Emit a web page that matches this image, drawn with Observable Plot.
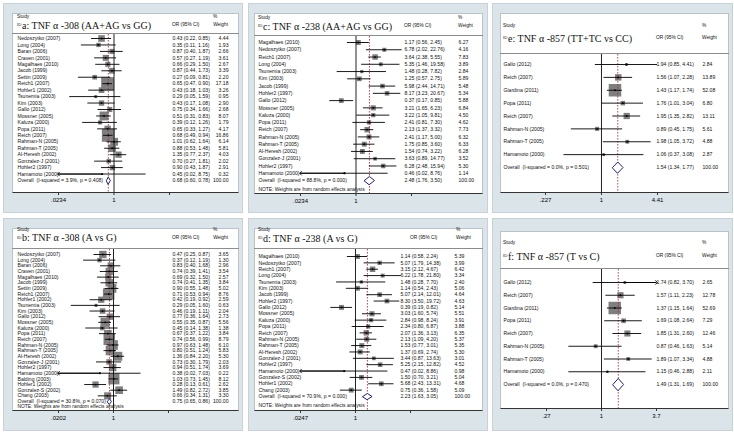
<!DOCTYPE html>
<html><head><meta charset="utf-8">
<script src="https://cdn.jsdelivr.net/npm/d3@7"></script>
<script src="https://cdn.jsdelivr.net/npm/@observablehq/plot@0.6"></script>
<style>
body{margin:0;background:#fff;width:734px;height:435px;overflow:hidden;position:relative;font-family:"Liberation Sans",Arial,sans-serif;}
.outer{position:absolute;background:#dae4e9;border:1px solid #c7d1d7;box-sizing:border-box;}
.inner{position:absolute;background:#fff;border:1px solid #b9c3c9;border-bottom:1px solid #333;box-sizing:border-box;}
.hline{position:absolute;height:1px;background:#8c8c8c;}
.t{position:absolute;white-space:nowrap;color:#111;}
svg.plot{position:absolute;}
</style></head><body>
<script>
// ---------- DATA ----------
// a: TNF α -308 (AA+AG vs GG)
const aStudies = ["Nedoszytko (2007)","Long (2004)","Baran (2006)","Craven (2001)","Magalhaes (2010)","Jacob (1999)","Settin (2009)","Reich1 (2007)","Hohler1 (2002)","Tsunemia (2003)","Kim (2003)","Gallo (2012)","Mossner (2005)","Kaluza (2000)","Popa (2011)","Reich (2007)","Rahman-N (2005)","Rahman-T (2005)","Al-Heresh (2002)","Gonzalez-J (2001)","Hohler2 (1997)","Hamamoto (2000)"];
const aOR = [0.43,0.35,0.87,0.57,0.66,0.87,0.27,0.65,0.43,0.29,0.43,0.75,0.51,0.39,0.65,0.68,1.01,0.88,1.35,0.70,0.90,0.45];
const aLo = [0.22,0.11,0.40,0.27,0.29,0.44,0.09,0.47,0.18,0.05,0.17,0.34,0.31,0.12,0.33,0.49,0.62,0.53,0.77,0.27,0.43,0.02];
const aHi = [0.85,1.16,1.87,1.19,1.50,1.73,0.81,0.90,1.03,1.59,1.08,1.66,0.83,1.26,1.27,0.94,1.64,1.48,2.37,1.81,1.87,8.75];
const aWeight = [4.44,1.93,2.66,3.61,2.67,3.39,2.20,17.18,3.26,0.95,2.90,2.68,8.07,1.79,4.17,16.86,6.14,5.81,4.03,2.02,2.91,0.32];
const aOverall = [0.68,0.60,0.78];
const aHet = ["3.9%","0.408"];
const aTicks = [".0234","1","42.7"];
const aOffAxis = ["Hamamoto (2000)"];

// b: TNF α -308 (A vs G)
const bStudies = ["Nedoszytko (2007)","Long (2004)","Baran (2006)","Craven (2001)","Magalhaes (2010)","Jacob (1999)","Settin (2009)","Reich1 (2007)","Hohler1 (2002)","Tsunemia (2003)","Kim (2003)","Gallo (2012)","Mossner (2005)","Kaluza (2000)","Popa (2011)","Reich (2007)","Rahman-N (2005)","Rahman-T (2005)","Al-Heresh (2002)","Gonzalez-J (2001)","Hohler2 (1997)","Hamamoto (2000)","Balding (2003)","Hohler1 (2002)","Gonzalez-S (2002)","Chang (2003)"];
const bOR = [0.47,0.37,0.83,0.74,0.69,0.74,0.90,0.71,0.42,0.29,0.46,0.77,0.55,0.45,0.67,0.74,0.97,0.80,1.36,0.73,0.94,0.38,1.03,0.28,1.49,0.66];
const bLo = [0.25,0.12,0.40,0.39,0.32,0.41,0.55,0.53,0.19,0.05,0.19,0.36,0.35,0.14,0.37,0.56,0.63,0.51,0.84,0.30,0.51,0.02,0.73,0.13,0.82,0.34];
const bHi = [0.87,1.19,1.68,1.41,1.50,1.35,1.48,0.94,0.92,1.60,1.11,1.64,0.87,1.38,1.22,0.99,1.48,1.24,2.20,1.79,1.74,7.03,1.45,0.61,2.72,1.31];
const bWeight = [3.65,1.30,2.96,3.54,2.57,3.84,5.02,8.76,2.59,0.63,2.04,2.73,5.56,1.38,3.84,8.79,6.10,5.83,5.30,2.03,3.69,0.22,8.12,2.62,3.85,3.30];
const bOverall = [0.75,0.65,0.86];
const bHet = ["30.8%","0.070"];
const bTicks = [".0202","1","49.5"];
const bOffAxis = ["Hamamoto (2000)"];

// c: TNF α -238 (AA+AG vs GG)
const cStudies = ["Magalhaes (2010)","Nedoszytko (2007)","Reich1 (2007)","Long (2004)","Tsunemia (2003)","Kim (2003)","Jacob (1999)","Hohler2 (1997)","Gallo (2012)","Mossner (2005)","Kaluza (2000)","Popa (2011)","Reich (2007)","Rahman-N (2005)","Rahman-T (2005)","Al-Heresh (2002)","Gonzalez-J (2001)","Hohler2 (1997)","Hamamoto (2000)"];
const cOR = [1.17,6.78,3.64,5.35,1.48,1.25,5.98,8.17,0.37,3.21,3.22,2.41,2.13,2.41,1.75,1.54,3.63,6.28,0.46];
const cLo = [0.56,2.02,2.38,1.46,0.28,0.57,2.44,3.23,0.17,1.65,1.05,0.81,1.37,1.17,0.85,0.74,0.89,2.48,0.02];
const cHi = [2.45,22.76,5.55,19.58,7.82,2.75,14.71,20.67,0.85,6.23,9.81,7.30,3.32,5.00,3.60,3.22,14.77,15.94,8.76];
const cWeight = [6.27,4.16,7.83,3.89,2.84,5.89,5.48,5.34,5.88,6.84,4.50,4.62,7.73,6.32,6.33,6.28,3.52,5.30,1.14];
const cOverall = [2.48,1.76,3.50];
const cHet = ["88.8%","0.000"];
const cTicks = [".0234","1","42.7"];
const cOffAxis = ["Hamamoto (2000)"];

// d: TNF α -238 (A vs G)
const dStudies = ["Magalhaes (2010)","Nedoszytko (2007)","Reich1 (2007)","Long (2004)","Tsunemia (2003)","Kim (2003)","Jacob (1999)","Hohler2 (1997)","Gallo (2012)","Mossner (2005)","Kaluza (2000)","Popa (2011)","Reich (2007)","Rahman-N (2005)","Rahman-T (2005)","Al-Heresh (2002)","Gonzalez-J (2001)","Hohler2 (1997)","Hamamoto (2000)","Gonzalez-S (2002)","Hohler1 (2002)","Chang (2003)"];
const dOR = [1.14,5.07,3.15,6.22,1.48,1.14,5.07,8.30,0.39,3.03,2.84,2.34,2.07,2.13,1.53,1.37,3.44,5.25,0.47,1.50,5.68,0.75];
const dLo = [0.58,1.79,2.12,1.78,0.28,0.54,2.14,3.50,0.19,1.60,0.98,0.80,1.36,1.09,0.77,0.69,0.87,2.15,0.02,0.70,2.43,0.36];
const dHi = [2.24,14.38,4.67,21.80,7.70,2.43,12.01,19.72,0.82,5.74,8.24,6.87,3.13,4.20,3.01,2.74,13.63,12.82,8.86,3.21,13.31,1.58];
const dWeight = [5.39,3.99,6.42,3.34,2.40,5.06,4.64,4.63,5.14,5.51,3.91,3.88,6.35,5.37,5.35,5.30,3.01,4.52,0.98,5.04,4.68,5.09];
const dOverall = [2.23,1.63,3.05];
const dHet = ["70.9%","0.000"];
const dTicks = [".0247","1","40.5"];
const dOffAxis = ["Hamamoto (2000)"];

// e: TNF α -857 (TT+TC vs CC)
const eStudies = ["Gallo (2012)","Reich (2007)","Giardina (2011)","Popa (2011)","Reich (2007)","Rahman-N (2005)","Rahman-T (2005)","Hamamoto (2000)"];
const eOR = [1.94,1.56,1.43,1.76,1.95,0.89,1.98,1.06];
const eLo = [0.85,1.07,1.17,1.01,1.35,0.45,1.05,0.37];
const eHi = [4.41,2.28,1.74,3.04,2.82,1.75,3.72,3.08];
const eWeight = [2.84,13.89,52.08,6.80,13.11,5.61,4.88,2.87];
const eOverall = [1.54,1.34,1.77];
const eHet = ["0.0%","0.501"];
const eTicks = [".227","1","4.41"];
const eOffAxis = [];

// f: TNF α -857 (T vs C)
const fStudies = ["Gallo (2012)","Reich (2007)","Giardina (2011)","Popa (2011)","Reich (2007)","Rahman-N (2005)","Rahman-T (2005)","Hamamoto (2000)"];
const fOR = [1.74,1.57,1.37,1.69,1.85,0.87,1.89,1.15];
const fLo = [0.82,1.11,1.15,1.08,1.31,0.46,1.07,0.46];
const fHi = [3.70,2.23,1.64,2.64,2.60,1.63,3.34,2.88];
const fWeight = [2.65,12.78,52.69,7.29,12.46,5.14,4.88,2.11];
const fOverall = [1.49,1.31,1.69];
const fHet = ["0.0%","0.470"];
const fTicks = [".27","1","3.7"];
const fOffAxis = ["Gallo (2012)"];

const titles = {
  a: "a: TNF\u00a0\u03b1 -308 (AA+AG vs GG)",
  b: "b: TNF\u00a0\u03b1 -308 (A vs G)",
  c: "c: TNF\u00a0\u03b1 -238 (AA+AG vs GG)",
  d: "d: TNF\u00a0\u03b1 -238 (A vs G)",
  e: "e: TNF\u00a0\u03b1 -857 (TT+TC vs CC)",
  f: "f: TNF\u00a0\u03b1 -857 (T vs C)"
};
const noteText = "NOTE: Weights are from random effects analysis";

// ---------- LAYOUT (page pixels) ----------
const layout = {
 a:{outer:[3,3,240,210], inner:[12,13,227], axisY:192, studyY:18, titleY:26, lineY:33, firstY:38, lastY:180, fx:[58,169], labelX:17, orX:172, orHX:172, wX:228, wAlign:"end", pctX:213, boxMax:13, noteY:null, hh:3.5},
 b:{outer:[3,218,240,213], inner:[12,228,227], axisY:410, studyY:231, titleY:238.5, lineY:248, firstY:254, lastY:401, fx:[58,168], labelX:17, orX:172, orHX:172, wX:228, wAlign:"end", pctX:213, boxMax:11.5, noteY:406, hh:2.8},
 c:{outer:[248,3,240,210], inner:[254,13,229], axisY:193, studyY:19, titleY:27, lineY:35, firstY:42, lastY:180, fx:[300,411], labelX:258, orX:404, orHX:404, wX:458, wAlign:"start", pctX:458, boxMax:5.5, noteY:189, hh:4},
 d:{outer:[248,218,240,213], inner:[254,228,229], axisY:410, studyY:231, titleY:239, lineY:248, firstY:256, lastY:396, fx:[300,410], labelX:258, orX:400, orHX:410, wX:454, wAlign:"start", pctX:456, boxMax:5.5, noteY:405, hh:3},
 e:{outer:[492,3,241,210], inner:[500,13,229], axisY:192, studyY:27, titleY:39, lineY:53, firstY:64, lastY:167, fx:[545,657], labelX:503, orX:656, orHX:656, wX:702, wAlign:"start", pctX:702, boxMax:12.5, noteY:null, hh:5.5},
 f:{outer:[492,218,241,213], inner:[500,231,229], axisY:408, studyY:244, titleY:257, lineY:268, firstY:282, lastY:384, fx:[546,656], labelX:503, orX:656, orHX:656, wX:702, wAlign:"start", pctX:702, boxMax:12.5, noteY:null, hh:6}
};

const panels = [
  {key:"a", studies:aStudies, or:aOR, lo:aLo, hi:aHi, w:aWeight, ov:aOverall, het:aHet, ticks:aTicks, off:aOffAxis, note:false},
  {key:"b", studies:bStudies, or:bOR, lo:bLo, hi:bHi, w:bWeight, ov:bOverall, het:bHet, ticks:bTicks, off:bOffAxis, note:true},
  {key:"c", studies:cStudies, or:cOR, lo:cLo, hi:cHi, w:cWeight, ov:cOverall, het:cHet, ticks:cTicks, off:cOffAxis, note:true},
  {key:"d", studies:dStudies, or:dOR, lo:dLo, hi:dHi, w:dWeight, ov:dOverall, het:dHet, ticks:dTicks, off:dOffAxis, note:true},
  {key:"e", studies:eStudies, or:eOR, lo:eLo, hi:eHi, w:eWeight, ov:eOverall, het:eHet, ticks:eTicks, off:eOffAxis, note:false},
  {key:"f", studies:fStudies, or:fOR, lo:fLo, hi:fHi, w:fWeight, ov:fOverall, het:fHet, ticks:fTicks, off:fOffAxis, note:false}
];

function box(cls, x, y, w, h) {
  const el = document.createElement("div");
  el.className = cls;
  Object.assign(el.style, {left:x+"px", top:y+"px", width:w+"px", height:h+"px"});
  document.body.appendChild(el);
  return el;
}
function txt(s, x, cy, size, opt = {}) {
  const el = document.createElement("div");
  el.className = "t";
  el.textContent = s;
  el.style.left = x + "px";
  el.style.top = (cy - size * 0.55) + "px";
  el.style.fontSize = size + "px";
  el.style.lineHeight = size + "px";
  if (opt.family) el.style.fontFamily = opt.family;
  if (opt.align === "end") el.style.transform = "translateX(-100%)";
  document.body.appendChild(el);
}
const f2 = v => v.toFixed(2);

for (const p of panels) {
  const L = layout[p.key];
  const [ox, oy, ow, oh] = L.outer;
  const [ix, iy, iw] = L.inner;
  box("outer", ox, oy, ow, oh);
  box("inner", ix, iy, iw, L.axisY - iy + 1);
  box("hline", ix, L.lineY, iw, 1);

  // header
  txt("Study", L.labelX, L.studyY, 4.8);
  txt("ID", L.labelX, L.titleY - 0.3, 4.4);
  txt(titles[p.key], L.labelX + 5, L.titleY, 10, {family: "'Liberation Serif','Times New Roman',serif"});
  txt("OR (95% CI)", L.orHX, L.titleY, 4.8);
  txt("%", L.pctX, L.studyY, 4.8);
  if (L.wAlign === "end") txt("Weight", L.wX, L.titleY, 4.8, {align: "end"});
  else txt("Weight", L.pctX, L.titleY, 4.8);

  const n = p.studies.length;
  const rows = p.studies.map((s, i) => ({i, s, or: p.or[i], lo: p.lo[i], hi: p.hi[i], w: p.w[i]}));
  const dmin = +p.ticks[0], dmax = +p.ticks[2];
  const tickVals = [dmin, 1, dmax];
  const ov = {or: p.ov[0], lo: p.ov[1], hi: p.ov[2]};
  const txtRows = rows.map(r => ({i: r.i, label: r.s, ci: `${f2(r.or)} (${f2(r.lo)}, ${f2(r.hi)})`, w: f2(r.w)}));
  txtRows.push({i: n, label: `Overall  (I-squared = ${p.het[0]}, p = ${p.het[1]})`, ci: `${f2(ov.or)} (${f2(ov.lo)}, ${f2(ov.hi)})`, w: "100.00"});
  const spacing = (L.lastY - L.firstY) / n;
  const hh = L.hh / spacing;
  const diamond = [[ov.lo, n], [ov.or, n - hh], [ov.hi, n], [ov.or, n + hh]];
  const offRows = rows.filter(r => p.off.includes(r.s));
  const svgTop = L.lineY;
  const H = L.axisY - svgTop + 20;
  const mb = H - (L.axisY - svgTop);
  const wMax = d3.max(p.w);

  const marks = [
    Plot.dot(rows, {x: "or", y: "i", r: "w", symbol: "square", fill: "#7f7f7f"}),
    Plot.ruleX([1], {stroke: "#222", strokeWidth: 1}),
    Plot.ruleX([ov.or], {stroke: "#a3262b", strokeWidth: 0.8, strokeDasharray: "1.6,1.4"}),
    Plot.ruleY(rows, {y: "i", x1: d => Math.max(d.lo, dmin), x2: d => Math.min(d.hi, dmax), stroke: "#000", strokeWidth: 0.9}),
    Plot.link(offRows, {x1: "or", y1: "i", y2: "i", x2: d => (d.lo < dmin ? dmin : dmax), stroke: "#000", strokeWidth: 0.9, markerEnd: "arrow"}),
    Plot.dot(rows, {x: "or", y: "i", r: 0.9, fill: "#000"}),
    Plot.line(diamond, {x: d => d[0], y: d => d[1], curve: "linear-closed", stroke: "#26226e", strokeWidth: 1, fill: "#fff"}),
    Plot.text(txtRows, {y: "i", text: "label", frameAnchor: "left", dx: L.labelX - ix, textAnchor: "start", fill: "#111"}),
    Plot.text(txtRows, {y: "i", text: "ci", frameAnchor: "left", dx: L.orX - ix, textAnchor: "start", fill: "#111"}),
    Plot.text(txtRows, {y: "i", text: "w", frameAnchor: "left", dx: L.wX - ix, textAnchor: L.wAlign, fill: "#111"}),
    Plot.axisX({ticks: tickVals, tickFormat: d => p.ticks[tickVals.findIndex(t => Math.abs(t - d) < 1e-9)], tickSize: 3, tickPadding: 2.5, fontSize: 6, anchor: "bottom", stroke: "#333", label: null})
  ];
  if (p.note) marks.push(Plot.text([noteText], {text: d => d, frameAnchor: "bottom-left", dx: L.labelX - ix, dy: L.noteY - L.axisY, lineAnchor: "middle", textAnchor: "start", fontSize: 4.9, fill: "#111"}));

  const svg = Plot.plot({
    width: iw, height: H,
    marginTop: 1, marginBottom: mb, marginLeft: 0, marginRight: 0,
    x: {type: "log", domain: [dmin, dmax], range: [L.fx[0] - ix, L.fx[1] - ix], label: null},
    y: {domain: [0, n], range: [L.firstY - svgTop, L.lastY - svgTop], axis: null},
    r: {type: "sqrt", domain: [0, wMax], range: [0, L.boxMax / Math.sqrt(Math.PI)]},
    style: {background: "transparent", fontFamily: "'Liberation Sans', Arial, sans-serif", fontSize: "5.1px", overflow: "visible"},
    marks
  });
  svg.classList.add("plot");
  svg.style.left = ix + "px";
  svg.style.top = svgTop + "px";
  svg.style.position = "absolute";
  document.body.appendChild(svg);
}
</script>
</body></html>
